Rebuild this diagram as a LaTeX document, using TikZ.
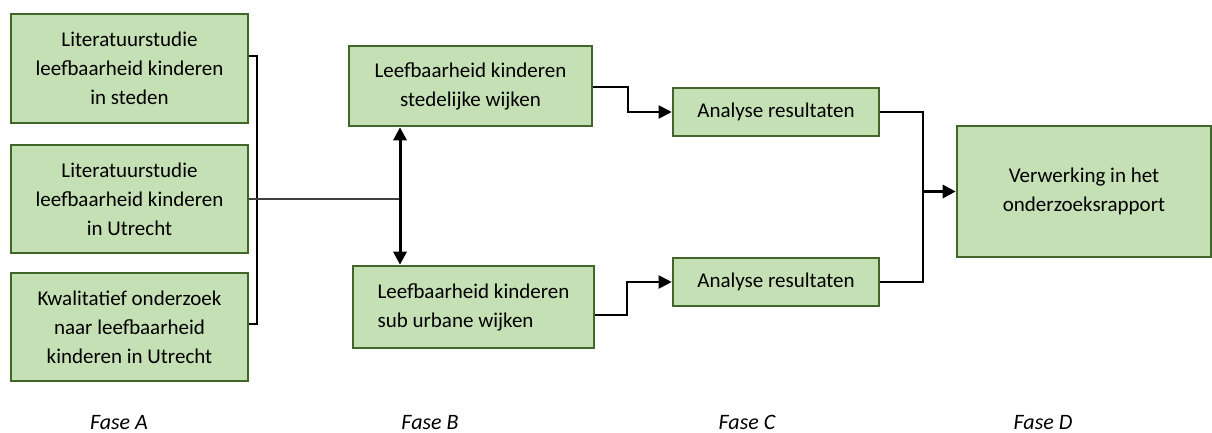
\documentclass[tikz,border=0pt]{standalone}
\usepackage{fontspec}
\setmainfont{Carlito}
\usetikzlibrary{arrows.meta}
\definecolor{boxfill}{HTML}{C5E0B4}
\definecolor{boxline}{HTML}{41662A}
\definecolor{thinline}{HTML}{404040}
\begin{document}
\begin{tikzpicture}[x=1pt,y=-1pt,
  box/.style={draw=boxline, fill=boxfill, line width=2.6pt, align=center, inner sep=0pt,
    font=\fontsize{21}{29}\selectfont},
  fase/.style={font=\fontsize{22}{26}\selectfont\itshape, inner sep=0pt, anchor=base},
  conn/.style={draw=black, line width=2pt},
  thickconn/.style={draw=black, line width=3pt},
  tip/.style={-{Triangle[length=13pt,width=13pt]}},
  dtip/.style={{Triangle[length=13pt,width=13pt]}-{Triangle[length=13pt,width=13pt]}}
]
\useasboundingbox (0,0) rectangle (1212,433);

% Phase A
\node[box, minimum width=237pt, minimum height=109pt] (A1) at (129.5,68.5)
  {Literatuurstudie\\leefbaarheid kinderen\\in steden};
\node[box, minimum width=237pt, minimum height=108pt] (A2) at (129.5,199)
  {Literatuurstudie\\leefbaarheid kinderen\\in Utrecht};
\node[box, minimum width=237pt, minimum height=108pt] (A3) at (129.5,327)
  {Kwalitatief onderzoek\\naar leefbaarheid\\kinderen in Utrecht};

% Phase B
\node[box, minimum width=243pt, minimum height=80pt] (B1) at (470.5,86)
  {Leefbaarheid kinderen\\stedelijke wijken};
\node[box, align=left, minimum width=241pt, minimum height=82pt] (B2) at (473.5,307)
  {Leefbaarheid kinderen\\sub urbane wijken};

% Phase C
\node[box, minimum width=206pt, minimum height=48pt] (C1) at (776,112) {Analyse resultaten};
\node[box, minimum width=206pt, minimum height=48pt] (C2) at (776,282) {Analyse resultaten};

% Phase D
\node[box, minimum width=254pt, minimum height=131pt] (D) at (1084,191.5)
  {Verwerking in het\\onderzoeksrapport};

% Phase labels
\node[fase] (FA) at (119,429) {Fase A};
\node[fase] (FB) at (430,429) {Fase B};
\node[fase] (FC) at (747,429) {Fase C};
\node[fase] (FD) at (1043,429) {Fase D};

% Bracket joining phase A
\coordinate (brT) at (257,56);
\coordinate (brB) at (257,324);
\coordinate (jn) at (400,199);
\draw[conn, line width=1.8pt] (A1.east |- brT) -- (brT) -- (brB) -- (A3.east |- brB);
\draw[draw=thinline, line width=1.6pt] (A2.east) -- (jn);

% Double arrow between B boxes
\draw[thickconn, dtip] (B1.south -| jn) -- (B2.north -| jn);

% B -> C
\coordinate (e1) at (628,87);
\coordinate (e2) at (627,315);
\draw[conn, tip] (B1.east |- e1) -- (e1) |- (C1.west);
\draw[conn, tip] (B2.east |- e2) -- (e2) |- (C2.west);

% C -> D
\coordinate (mg) at (923,191.5);
\draw[conn] (C1.east) -| (mg) |- (C2.east);
\draw[thickconn, tip] (mg) -- (D.west);
\end{tikzpicture}
\end{document}
